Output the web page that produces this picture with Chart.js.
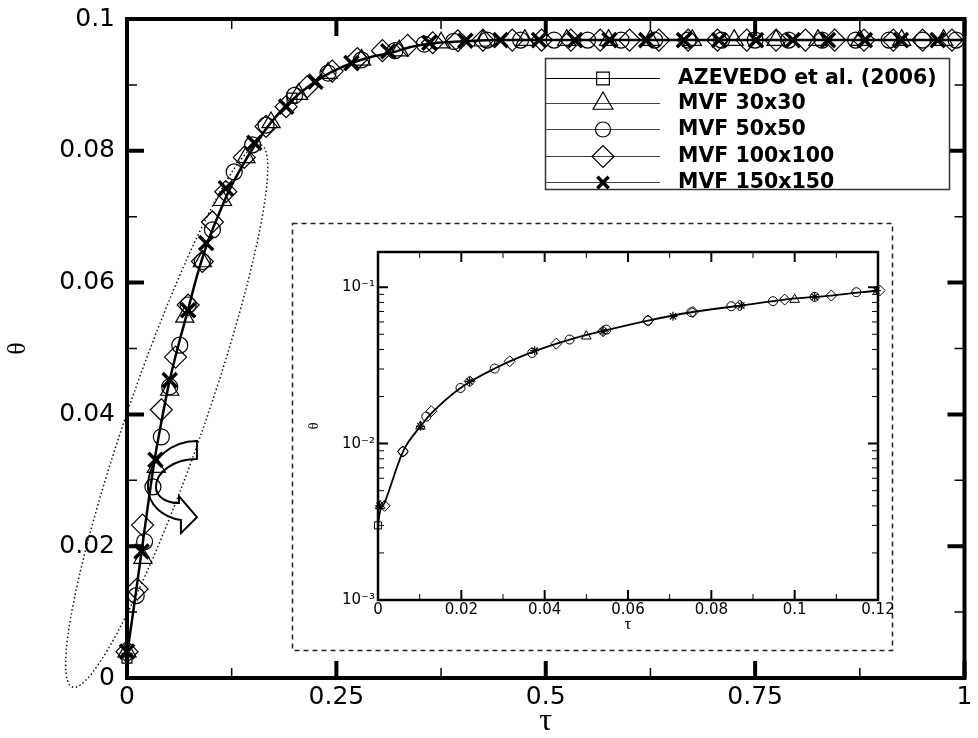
<!DOCTYPE html>
<html><head><meta charset="utf-8">
<script src="https://cdn.jsdelivr.net/npm/chart.js@4.4.0/dist/chart.umd.min.js"></script>
<style>
html,body{margin:0;padding:0;background:#fff;}
#wrap{position:relative;width:978px;height:738px;overflow:hidden;}
#main{position:absolute;left:0;top:0;}
#inset{position:absolute;left:292px;top:223px;}
</style></head><body>
<div id="wrap"><canvas id="main" width="978" height="738"></canvas><canvas id="inset" width="601" height="428"></canvas></div>
<script>
// ================= DATA =================
const xTickValues = [0, 0.25, 0.5, 0.75, 1];
const xTickLabels = ['0', '0.25', '0.5', '0.75', '1'];
const xMinorTicks = [0.125, 0.375, 0.625, 0.875];
const yTickValues = [0, 0.02, 0.04, 0.06, 0.08, 0.1];
const yTickLabels = ['0', '0.02', '0.04', '0.06', '0.08', '0.1'];
const yMinorTicks = [0.01, 0.03, 0.05, 0.07, 0.09];

const seriesNames = ['AZEVEDO et al. (2006)', 'MVF 30x30', 'MVF 50x50', 'MVF 100x100', 'MVF 150x150'];

// main solid curve
const curveTau   = [0, 0.0087, 0.0174, 0.025, 0.0332, 0.042, 0.051, 0.062, 0.0727, 0.084, 0.0965, 0.11, 0.122, 0.138, 0.154, 0.17, 0.189, 0.205, 0.225, 0.245, 0.268, 0.29, 0.316, 0.34, 0.365, 0.40, 0.45, 0.5, 0.6, 0.7, 0.8, 0.9, 1.0];
const curveTheta = [0.0035, 0.0112, 0.0192, 0.0262, 0.0333, 0.0395, 0.0452, 0.0508, 0.0558, 0.0612, 0.0662, 0.0705, 0.0740, 0.0778, 0.0811, 0.0840, 0.0867, 0.0886, 0.0905, 0.0920, 0.0933, 0.0942, 0.0949, 0.0958, 0.0963, 0.0966, 0.0968, 0.0968, 0.0968, 0.0968, 0.0968, 0.0968, 0.0968];

// main markers
const azevedoTau   = [0, 0.197];
const azevedoTheta = [0.0030, 0.0880];
const mvf30Tau   = [0, 0.019, 0.035, 0.051, 0.069, 0.09, 0.114, 0.142, 0.172, 0.205, 0.24, 0.28, 0.325, 0.375, 0.425, 0.475, 0.525, 0.575, 0.625, 0.675, 0.725, 0.775, 0.825, 0.875, 0.925, 0.975];
const mvf30Theta = [0.0040, 0.0182, 0.0320, 0.0437, 0.0548, 0.0632, 0.0725, 0.0790, 0.0843, 0.0886, 0.0918, 0.0938, 0.0952, 0.0964, 0.0967, 0.0968, 0.0968, 0.0968, 0.0968, 0.0968, 0.0968, 0.0968, 0.0968, 0.0968, 0.0968, 0.0968];
const mvf50Tau   = [0.011, 0.021, 0.031, 0.041, 0.051, 0.063, 0.073, 0.09, 0.102, 0.128, 0.15, 0.166, 0.2, 0.24, 0.28, 0.32, 0.355, 0.39, 0.43, 0.47, 0.51, 0.55, 0.59, 0.63, 0.67, 0.71, 0.75, 0.79, 0.83, 0.87, 0.91, 0.95, 0.99];
const mvf50Theta = [0.0125, 0.0207, 0.0290, 0.0366, 0.0442, 0.0505, 0.0566, 0.0632, 0.0680, 0.0768, 0.0809, 0.0839, 0.0884, 0.0918, 0.0938, 0.0952, 0.0962, 0.0966, 0.0968, 0.0968, 0.0968, 0.0968, 0.0968, 0.0968, 0.0968, 0.0968, 0.0968, 0.0968, 0.0968, 0.0968, 0.0968, 0.0968, 0.0968];
const mvf100Tau   = [0, 0.012, 0.0186, 0.041, 0.058, 0.073, 0.09, 0.102, 0.118, 0.14, 0.166, 0.19, 0.215, 0.245, 0.275, 0.305, 0.335, 0.365, 0.395, 0.425, 0.46, 0.495, 0.53, 0.565, 0.6, 0.635, 0.67, 0.705, 0.74, 0.775, 0.81, 0.845, 0.88, 0.915, 0.95, 0.985];
const mvf100Theta = [0.0040, 0.0135, 0.0232, 0.0407, 0.0487, 0.0566, 0.0632, 0.0692, 0.0738, 0.0790, 0.0837, 0.0867, 0.0897, 0.0921, 0.0940, 0.0952, 0.0960, 0.0964, 0.0967, 0.0968, 0.0968, 0.0968, 0.0968, 0.0968, 0.0968, 0.0968, 0.0968, 0.0968, 0.0968, 0.0968, 0.0968, 0.0968, 0.0968, 0.0968, 0.0968, 0.0968];
const mvf150Tau   = [0, 0.0174, 0.034, 0.051, 0.073, 0.0945, 0.118, 0.152, 0.19, 0.225, 0.268, 0.312, 0.361, 0.404, 0.446, 0.492, 0.535, 0.576, 0.62, 0.665, 0.707, 0.751, 0.795, 0.837, 0.881, 0.924, 0.968];
const mvf150Theta = [0.0040, 0.0192, 0.0331, 0.0452, 0.0558, 0.0660, 0.0743, 0.0812, 0.0867, 0.0905, 0.0933, 0.0951, 0.0964, 0.0967, 0.0968, 0.0968, 0.0968, 0.0968, 0.0968, 0.0968, 0.0968, 0.0968, 0.0968, 0.0968, 0.0968, 0.0968, 0.0968];

// inset (log scale)
const insetXTickValues = [0, 0.02, 0.04, 0.06, 0.08, 0.1, 0.12];
const insetXTickLabels = ['0', '0.02', '0.04', '0.06', '0.08', '0.1', '0.12'];
const insetXMinorTicks = [0.01, 0.03, 0.05, 0.07, 0.09, 0.11];
const insetYTickValues = [0.001, 0.01, 0.1];
const insetYTickLabels = ['10\u207B\u00B3', '10\u207B\u00B2', '10\u207B\u00B9'];
const insetYMinorTicks = [0.002, 0.003, 0.004, 0.005, 0.006, 0.007, 0.008, 0.009, 0.02, 0.03, 0.04, 0.05, 0.06, 0.07, 0.08, 0.09];

const insetCurveTau   = [0, 0.0004, 0.0016, 0.006, 0.0102, 0.0128, 0.0198, 0.028, 0.0376, 0.046, 0.054, 0.0648, 0.0752, 0.0872, 0.0976, 0.1088, 0.12];
const insetCurveTheta = [0.0030, 0.0036, 0.0042, 0.0089, 0.0129, 0.0156, 0.0227, 0.0302, 0.0390, 0.0463, 0.0525, 0.0612, 0.0692, 0.0764, 0.0834, 0.0885, 0.0953];
const insetAzevedoTau   = [0];
const insetAzevedoTheta = [0.0030];
const insetMvf30Tau   = [0.0005, 0.0102, 0.050, 0.100];
const insetMvf30Theta = [0.0040, 0.0129, 0.0486, 0.0834];
const insetMvf50Tau   = [0.006, 0.0116, 0.0198, 0.028, 0.037, 0.046, 0.0548, 0.0648, 0.0752, 0.0848, 0.0948, 0.1048, 0.1148];
const insetMvf50Theta = [0.0089, 0.0149, 0.0227, 0.0302, 0.0380, 0.0463, 0.0536, 0.0612, 0.0692, 0.0756, 0.0814, 0.0868, 0.0929];
const insetMvf100Tau   = [0.0016, 0.006, 0.0128, 0.022, 0.0316, 0.0428, 0.054, 0.0648, 0.0756, 0.0868, 0.0976, 0.1088, 0.1204];
const insetMvf100Theta = [0.0040, 0.0089, 0.0161, 0.0250, 0.0336, 0.0436, 0.0523, 0.0612, 0.0695, 0.0764, 0.0834, 0.0885, 0.0953];
const insetMvf150Tau   = [0.0004, 0.0102, 0.022, 0.0376, 0.054, 0.0708, 0.0872, 0.1048, 0.1196];
const insetMvf150Theta = [0.0040, 0.0129, 0.0250, 0.0393, 0.0523, 0.0652, 0.0764, 0.0868, 0.0953];

// annotation (dotted ellipse ends in data units, arrow anchor in data units)
const ellipseTau   = [-0.0652, 0.160];
const ellipseTheta = [-0.00137, 0.0809];
const arrowAnchor  = [0.0835, 0.03595];

// ================= STYLE =================
const mainMarkers  = [
  {pointStyle:'rect', radius:7, borderWidth:1.2},
  {pointStyle:'triangle', radius:10.5, borderWidth:1.2},
  {pointStyle:'circle', radius:8, borderWidth:1.2},
  {pointStyle:'rectRot', radius:11, borderWidth:1.2},
  {pointStyle:'crossRot', radius:10, borderWidth:3.5}
];
const insetMarkers = [
  {pointStyle:'rect', radius:5, borderWidth:1},
  {pointStyle:'triangle', radius:5.5, borderWidth:1},
  {pointStyle:'circle', radius:4.5, borderWidth:1},
  {pointStyle:'rectRot', radius:5.5, borderWidth:1},
  {pointStyle:'star', radius:4.5, borderWidth:1.2}
];
const legendMarkers = [
  {pointStyle:'rect', radius:9, borderWidth:1.2},
  {pointStyle:'triangle', radius:11.5, borderWidth:1.2},
  {pointStyle:'circle', radius:7.5, borderWidth:1.2},
  {pointStyle:'rectRot', radius:11, borderWidth:1.2},
  {pointStyle:'crossRot', radius:8, borderWidth:3.5}
];

const pts = (xs, ys) => xs.map((x, i) => ({x: x, y: ys[i]}));
const mainSeries = [[azevedoTau, azevedoTheta], [mvf30Tau, mvf30Theta], [mvf50Tau, mvf50Theta], [mvf100Tau, mvf100Theta], [mvf150Tau, mvf150Theta]];
const insetSeries = [[insetAzevedoTau, insetAzevedoTheta], [insetMvf30Tau, insetMvf30Theta], [insetMvf50Tau, insetMvf50Theta], [insetMvf100Tau, insetMvf100Theta], [insetMvf150Tau, insetMvf150Theta]];

function markerDatasets(series, styles) {
  return series.map((s, i) => Object.assign({
    label: seriesNames[i], data: pts(s[0], s[1]), showLine: false,
    borderColor: '#000', backgroundColor: 'rgba(0,0,0,0)', clip: false
  }, styles[i], {pointRadius: styles[i].radius}));
}

function drawFrame(chart, o) {
  const ctx = chart.ctx, a = chart.chartArea, xs = chart.scales.x, ys = chart.scales.y;
  ctx.save();
  ctx.strokeStyle = '#000';
  ctx.lineCap = 'butt';
  const vt = (vals, len, w) => {
    ctx.lineWidth = w; ctx.beginPath();
    vals.forEach(v => { const p = xs.getPixelForValue(v);
      ctx.moveTo(p, a.bottom); ctx.lineTo(p, a.bottom - len);
      ctx.moveTo(p, a.top); ctx.lineTo(p, a.top + len); });
    ctx.stroke();
  };
  const ht = (vals, len, w) => {
    ctx.lineWidth = w; ctx.beginPath();
    vals.forEach(v => { const p = ys.getPixelForValue(v);
      ctx.moveTo(a.left, p); ctx.lineTo(a.left + len, p);
      ctx.moveTo(a.right, p); ctx.lineTo(a.right - len, p); });
    ctx.stroke();
  };
  vt(o.xMinor, o.minLen, o.minW); vt(o.xMajor, o.majLen, o.majW);
  ht(o.yMinor, o.minLen, o.minW); ht(o.yMajor, o.majLen, o.majW);
  ctx.lineWidth = o.borderW;
  ctx.strokeRect(a.left, a.top, a.right - a.left, a.bottom - a.top);
  ctx.restore();
}

const mainPlugin = {
  id: 'mainDecor',
  afterDraw(chart) {
    const ctx = chart.ctx, xs = chart.scales.x, ys = chart.scales.y;
    drawFrame(chart, {xMajor: xTickValues, xMinor: xMinorTicks, yMajor: yTickValues, yMinor: yMinorTicks,
      majLen: 17, majW: 4, minLen: 10, minW: 1.5, borderW: 4});
    ctx.save();
    // dotted ellipse
    const x1 = xs.getPixelForValue(ellipseTau[0]), y1 = ys.getPixelForValue(ellipseTheta[0]);
    const x2 = xs.getPixelForValue(ellipseTau[1]), y2 = ys.getPixelForValue(ellipseTheta[1]);
    const cx = (x1 + x2) / 2, cy = (y1 + y2) / 2;
    const ra = Math.hypot(x2 - x1, y2 - y1) / 2, rot = Math.atan2(y2 - y1, x2 - x1);
    ctx.beginPath(); ctx.setLineDash([1.5, 2.5]); ctx.lineWidth = 1.5; ctx.strokeStyle = '#111';
    ctx.ellipse(cx, cy, ra, 38.5, rot, 0, Math.PI * 2); ctx.stroke();
    ctx.setLineDash([]);
    // curved arrow
    const ax = xs.getPixelForValue(arrowAnchor[0]), ay = ys.getPixelForValue(arrowAnchor[1]);
    ctx.translate(ax, ay);
    ctx.beginPath(); ctx.lineWidth = 2; ctx.strokeStyle = '#000'; ctx.lineJoin = 'miter';
    ctx.moveTo(0, 0); ctx.lineTo(0, 18);
    ctx.bezierCurveTo(-22, 18, -41, 30, -41, 46);
    ctx.bezierCurveTo(-41, 56, -30, 62, -18, 62);
    ctx.lineTo(-18, 55); ctx.lineTo(0, 76); ctx.lineTo(-16, 92); ctx.lineTo(-16, 79);
    ctx.bezierCurveTo(-34, 76, -49, 64, -49, 46);
    ctx.bezierCurveTo(-49, 18, -25, 0, 0, 0);
    ctx.closePath(); ctx.stroke();
    ctx.setTransform(1, 0, 0, 1, 0, 0);
    // dashed inset box
    ctx.setLineDash([5, 4]); ctx.lineWidth = 1.5; ctx.strokeStyle = '#222';
    ctx.strokeRect(292.5, 223.5, 600, 427);
    ctx.setLineDash([]);
    // legend
    const lx = 545.5, ly = 58.5, lw = 404, lh = 131;
    ctx.fillStyle = '#fff'; ctx.fillRect(lx, ly, lw, lh);
    ctx.lineWidth = 1.5; ctx.strokeStyle = '#333'; ctx.strokeRect(lx, ly, lw, lh);
    const rows = [78, 103, 129, 156, 182];
    rows.forEach((ry, i) => {
      ctx.beginPath(); ctx.lineWidth = 1; ctx.strokeStyle = i === 0 ? '#000' : '#444';
      ctx.moveTo(546, ry + 0.5); ctx.lineTo(660, ry + 0.5); ctx.stroke();
      ctx.strokeStyle = '#000'; ctx.fillStyle = 'rgba(0,0,0,0)';
      ctx.lineWidth = legendMarkers[i].borderWidth;
      Chart.helpers.drawPoint(ctx, legendMarkers[i], 603, ry + 0.5);
      ctx.fillStyle = '#000'; ctx.font = 'bold 20.5px "DejaVu Sans"';
      ctx.textBaseline = 'middle'; ctx.textAlign = 'left';
      ctx.fillText(seriesNames[i], 678, ry + 1);
    });
    ctx.restore();
  }
};

const mainChart = new Chart(document.getElementById('main'), {
  type: 'scatter',
  data: { datasets: [
    {label: 'curve', data: pts(curveTau, curveTheta), showLine: true, borderColor: '#000', borderWidth: 2.5,
     pointRadius: 0, cubicInterpolationMode: 'monotone', clip: false}
  ].concat(markerDatasets(mainSeries, mainMarkers)) },
  options: {
    responsive: false, animation: false, devicePixelRatio: 1,
    layout: {padding: {left: 0, right: 8, top: 19, bottom: 0}},
    plugins: {legend: {display: false}, tooltip: {enabled: false}},
    scales: {
      x: {type: 'linear', min: 0, max: 1,
        grid: {display: false, drawTicks: false}, border: {display: false},
        afterBuildTicks: s => { s.ticks = xTickValues.map(v => ({value: v})); },
        ticks: {callback: (v, i) => xTickLabels[i], font: {family: 'DejaVu Sans', size: 25}, color: '#000', padding: 4, maxRotation: 0, autoSkip: false},
        title: {display: true, text: '\u03C4', font: {family: 'Liberation Serif', size: 32}, color: '#000', padding: {top: 0, bottom: -3}},
        afterFit: s => { s.height = 60; s.paddingLeft = 0; s.paddingRight = 0; }
      },
      y: {type: 'linear', min: 0, max: 0.1,
        grid: {display: false, drawTicks: false}, border: {display: false},
        afterBuildTicks: s => { s.ticks = yTickValues.map(v => ({value: v})); },
        ticks: {callback: (v, i) => yTickLabels[i], font: {family: 'DejaVu Sans', size: 25}, color: '#000', padding: 12, autoSkip: false},
        title: {display: true, text: '\u03B8', font: {family: 'Liberation Serif', size: 26}, color: '#000', padding: {top: 2.4, bottom: 0}},
        afterFit: s => { s.width = 127; s.paddingTop = 0; s.paddingBottom = 0; }
      }
    }
  },
  plugins: [mainPlugin]
});

const insetPlugin = {
  id: 'insetDecor',
  afterDraw(chart) {
    drawFrame(chart, {xMajor: insetXTickValues, xMinor: insetXMinorTicks, yMajor: insetYTickValues, yMinor: insetYMinorTicks,
      majLen: 10, majW: 2, minLen: 6, minW: 1, borderW: 2.5});
  }
};

const insetChart = new Chart(document.getElementById('inset'), {
  type: 'scatter',
  data: { datasets: [
    {label: 'curve', data: pts(insetCurveTau, insetCurveTheta), showLine: true, borderColor: '#000', borderWidth: 1.8,
     pointRadius: 0, cubicInterpolationMode: 'monotone', clip: false}
  ].concat(markerDatasets(insetSeries, insetMarkers)) },
  options: {
    responsive: false, animation: false, devicePixelRatio: 1,
    layout: {padding: {left: 0, right: 15, top: 29, bottom: 0}},
    plugins: {legend: {display: false}, tooltip: {enabled: false}},
    scales: {
      x: {type: 'linear', min: 0, max: 0.12,
        grid: {display: false, drawTicks: false}, border: {display: false},
        afterBuildTicks: s => { s.ticks = insetXTickValues.map(v => ({value: v})); },
        ticks: {callback: (v, i) => insetXTickLabels[i], font: {family: 'DejaVu Sans', size: 15}, color: '#000', padding: 1, maxRotation: 0, autoSkip: false},
        title: {display: true, text: '\u03C4', font: {family: 'Liberation Serif', size: 17}, color: '#000', padding: {top: 0, bottom: 16}},
        afterFit: s => { s.height = 51; s.paddingLeft = 0; s.paddingRight = 0; }
      },
      y: {type: 'logarithmic', min: 0.001, max: 0.168,
        grid: {display: false, drawTicks: false}, border: {display: false},
        afterBuildTicks: s => { s.ticks = insetYTickValues.map(v => ({value: v})); },
        ticks: {callback: (v, i) => insetYTickLabels[i], font: {family: 'DejaVu Sans', size: 15}, color: '#000', padding: 3, autoSkip: false},
        title: {display: true, text: '\u03B8', font: {family: 'Liberation Serif', size: 15}, color: '#000', padding: {top: 13, bottom: 0}},
        afterFit: s => { s.width = 86; s.paddingTop = 0; s.paddingBottom = 0; }
      }
    }
  },
  plugins: [insetPlugin]
});
</script>
</body></html>
